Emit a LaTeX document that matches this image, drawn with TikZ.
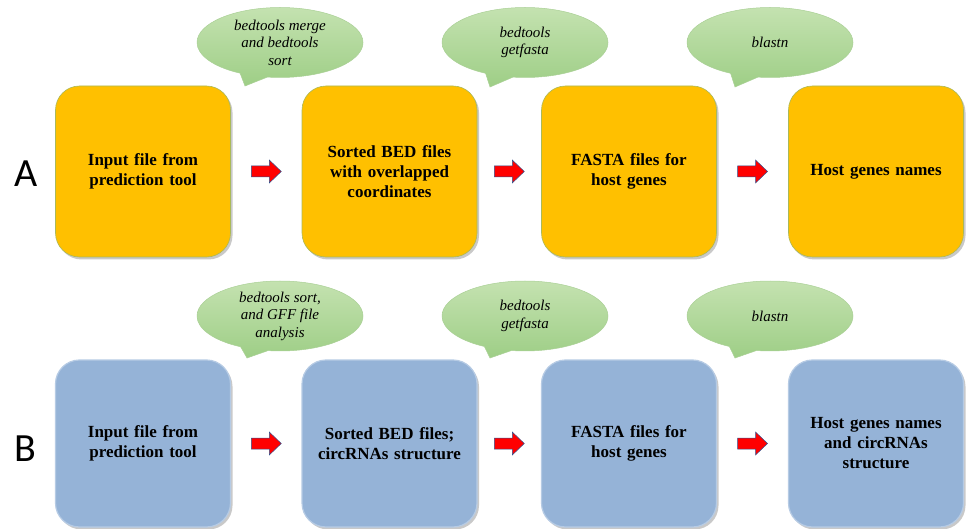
\documentclass[tikz,border=0pt]{standalone}
\usepackage{fontspec}
\newfontfamily\carlito{Carlito}
\newfontfamily\palfont{Liberation Serif}
\usetikzlibrary{shapes.callouts,shadows,calc}
\definecolor{boxyellow}{RGB}{255,192,0}
\definecolor{yedge}{RGB}{170,185,90}
\definecolor{boxblue}{RGB}{149,179,215}
\definecolor{bedge}{RGB}{182,203,228}
\definecolor{btop}{RGB}{196,226,176}
\definecolor{bbot}{RGB}{158,206,134}
\definecolor{bline}{RGB}{170,208,150}
\definecolor{arrowred}{RGB}{255,0,0}
\definecolor{arrowedge}{RGB}{47,82,143}
\begin{document}
\begin{tikzpicture}[x=1pt,y=-1pt,
  stepbox/.style={rounded corners=24pt, minimum width=175pt, inner sep=0pt,
    text width=165pt, align=center,
    font=\palfont\bfseries\fontsize{17}{20}\selectfont,
    drop shadow={shadow xshift=2pt,shadow yshift=-2.5pt,opacity=.3,fill=black!70}},
  ybox/.style={stepbox, fill=boxyellow, draw=yedge, line width=.6pt, minimum height=171pt},
  bbox/.style={stepbox, fill=boxblue, draw=bedge, line width=1.2pt, minimum height=167pt},
  bubble/.style={ellipse callout, minimum width=166pt, minimum height=70pt, inner sep=0pt,
    top color=btop, bottom color=bbot, draw=bline, line width=.5pt, align=center,
    callout pointer arc=20,
    font=\palfont\itshape\fontsize{15}{17.5}\selectfont},
  letter/.style={font=\carlito\fontsize{40}{40}\selectfont, inner sep=0pt},
  blockarrow/.style={fill=arrowred, draw=arrowedge, line width=.5pt}
]
\useasboundingbox (0,0) rectangle (966,529);

% Row A
\node[letter] (lA) at (26.5,173.5) {A};
\node[ybox] (a1) at (143,171.5) {Input file from\\prediction tool};
\node[ybox] (a2) at (389.5,171.5) {Sorted BED files\\with overlapped\\coordinates};
\node[ybox] (a3) at (629,171.5) {FASTA files for\\host genes};
\node[ybox] (a4) at (876,171.5) {Host genes names};

\node[bubble, callout absolute pointer={(245,86)}] (ca1) at (280,42.5) {bedtools merge\\and bedtools\\sort};
\node[bubble, callout absolute pointer={(490,87)}] (ca2) at (525,42.5) {bedtools\\getfasta};
\node[bubble, callout absolute pointer={(735,87)}] (ca3) at (770,42.5) {blastn};

% Row B
\node[letter] (lB) at (25.5,448.5) {B};
\node[bbox] (b1) at (143,443.5) {Input file from\\prediction tool};
\node[bbox] (b2) at (389.5,443.5) {Sorted BED files;\\circRNAs structure};
\node[bbox] (b3) at (629,443.5) {FASTA files for\\host genes};
\node[bbox] (b4) at (876,443.5) {Host genes names\\and circRNAs\\structure};

\node[bubble, callout absolute pointer={(247,358)}] (cb1) at (280,316) {bedtools sort,\\and GFF file\\analysis};
\node[bubble, callout absolute pointer={(490,358)}] (cb2) at (525,316) {bedtools\\getfasta};
\node[bubble, callout absolute pointer={(735,358)}] (cb3) at (770,316) {blastn};

% block arrows
\foreach \p/\q in {a1/a2,a2/a3,a3/a4,b1/b2,b2/b3,b3/b4}{
  \coordinate (m\p) at ($(\p.east)!.5!(\q.west)$);
  \draw[blockarrow, shift={(m\p)}] (-15,-5.5) -- (3,-5.5) -- (3,-11.5) -- (15,0)
     -- (3,11.5) -- (3,5.5) -- (-15,5.5) -- cycle;
}
\end{tikzpicture}
\end{document}
